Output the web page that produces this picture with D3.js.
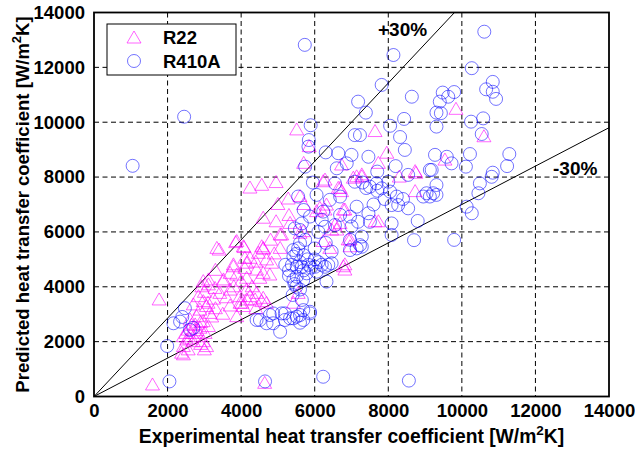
<!DOCTYPE html>
<html><head><meta charset="utf-8">
<script src="https://cdn.jsdelivr.net/npm/d3@7"></script>
<style>body{margin:0;background:#fff}text{font-family:"Liberation Sans",Arial,sans-serif;font-weight:bold}</style>
</head><body><svg id="c" width="635" height="450"></svg>
<script>
const xTicks=[0,2000,4000,6000,8000,10000,12000,14000];
const yTicks=[0,2000,4000,6000,8000,10000,12000,14000];
const seriesNames=["R22","R410A"];
const bandFactors=[1/0.7,0.7];
const bandLabels=["+30%","-30%"];
const r22=[
[1590,420],[1770,3520],[4640,480],[2430,1520],[2560,1700],[2380,1580],
[2430,1820],[2520,2060],[2650,2300],[2610,2790],[2750,2610],[2880,2490],[2790,2910],[2880,3150],[2700,3340],[2840,3640],[2970,3460],[3060,3280],[3150,3030],[2970,2730],[3110,2550],[3020,2300],[2840,2180],[2970,2000],[3060,1820],[2430,2180],[2560,2420],[2700,2000],[2900,1900],[3000,1700],[2800,2400],[2650,2600],[3200,2900],[3300,3200],[2600,2100],[2500,2300],[2900,2700],[3100,3400],
[2930,4000],[3110,4070],[3290,3940],[3420,3760],[3700,3880],[3970,3640],[4150,3520],[4020,3400],[4240,3640],[4380,3520],[4690,3400],[4060,3280],[2970,4190],[3110,4250],[3510,4190],[3520,4250],[3700,4490],[3790,4730],[3880,4430],[4100,4670],[4150,4310],[4420,4610],[4510,4310],[4690,4980],[4780,4430],[4240,5040],[4470,5220],[4150,4860],[4600,4490],[4150,3880],[4420,3760],[4600,3580],[3970,3400],[3880,2910],[3400,5340],[3850,5610],[4080,5430],[4600,5370],[4560,5460],[3340,5400],[3880,5650],[4060,5460],[4100,5040],[3790,4800],[4600,5400],[4830,4860],[3600,3600],[3800,4000],[4000,4200],[4300,4000],[3500,3000],[3700,3300],[4400,4900],[4900,5200],[3300,4600],[3000,3800],[4560,3460],[4400,3200],[3250,3550],
[4950,6370],[5100,5890],[5060,5400],[5330,6310],[5060,5890],[5600,5950],[5690,6010],[5600,7290],[6050,6740],[6280,6800],[6320,6980],[6140,6860],[6780,6800],[6820,6800],[6280,7890],[6640,7590],[6730,7470],[6690,7590],[6230,7830],[7050,7960],[7140,8010],[7280,8080],[7280,8010],[6690,6310],[6600,6070],[6460,6070],[6550,6250],[6230,5650],[6960,5460],[6410,5400],[6960,5710],[6910,5710],[7640,6370],[7730,6370],[6780,4730],[6820,4610],[6820,4800],[5550,3760],[5420,3400],[4950,7800],[4560,7700],[4240,7600],[5280,7200],[5700,7000],[5000,7000],[4600,6500],[5300,6600],[4800,5700],
[5510,9720],[5850,9110],[7640,9660],[7960,8870],[7730,8500],[8730,8200],[8730,7470],[8750,8140],[6730,8440],[9540,8620],[9840,10470],[10600,9470],[5700,8500],[8300,8000]
];
const r410a=[
[1050,8410],[2450,10200],[5730,12820],[8140,12450],[7820,11360],[8640,10930],[7180,10750],[7390,10350],[9400,10750],[9310,10350],[9310,9840],[8430,10120],[8050,9870],[5890,9890],[5840,9350],[7090,9530],[7230,9530],[8320,9460],
[10610,13300],[10270,11970],[9480,11080],[9630,10930],[9790,11100],[10660,11200],[10840,11470],[10840,11110],[10930,10850],[9430,10330],[10250,10020],[10580,10140],[10540,9570],
[9270,8810],[9590,8740],[9720,8500],[9180,8260],[10110,8380],[10220,8840],[11290,8840],[11230,8400],[10840,8160],[10810,8010],[10490,7770],[9310,7710],[9220,7410],[10450,7410],[9130,7290],[10130,6920],[10270,6680],[9790,5710],
[2050,550],[1990,1840],[4650,550],[6230,720],[8560,580],
[2470,3220],[2160,2670],[2340,2730],[2610,2430],[2400,2900],[2700,2500],
[4780,2970],[5100,3030],[5330,2850],[5600,2970],[5870,3090],[5650,3520],[4870,2670],[5060,2360],[5600,2690],[5190,2790],[4510,2790],[5690,3150],[5510,2910],[5690,2790],[5870,3030],[4420,2790],[4870,3030],[4690,2670],[5420,2850],[5190,3030],
[5420,5100],[5510,4730],[5380,4800],[5650,4730],[5830,4800],[6010,4730],[6190,4800],[6370,4800],[6460,4860],[6280,4730],[5780,4490],[6050,4550],[6320,4190],[5510,4370],[5420,4250],[5690,4250],[5600,5590],[5420,5340],[5500,5200],[5600,4900],[5300,4600],[5500,4000],[5700,4600],[5900,4700],[6100,4900],[5300,4400],[5450,4100],[5200,4800],[5550,5400],[5600,3900],[5400,3700],[5800,5000],[6000,5000],[5700,5150],
[5830,9110],[6640,8870],[7000,8810],[6870,8500],[7460,8740],[8450,8990],[5740,8380],[6600,8320],[8540,8080],[9130,8260],[6550,7770],[7090,7830],[7500,7650],[7680,7770],[7820,7590],[8000,7830],[8050,7470],[8230,7290],[8270,6980],[8540,6860],[8090,6980],[8950,7290],[9040,7410],[9310,7350],[6050,7350],[6410,7170],[6690,7290],[7140,6920],[6960,6560],[7460,6680],[7500,6370],[7180,6370],[7280,5830],[7230,5520],[6960,5710],[8090,6310],[8090,5890],[6550,6250],[6230,6740],[5550,7290],[5870,6560],[5650,6310],[6190,6440],[6690,6620],[6280,6190],[5600,6070],[5460,6130],[5740,5710],[7280,5460],[6960,5340],[6460,5280],[7140,5400],[7400,7600],[7700,7500],[7600,7000],[7000,6200],[8400,7200],[8800,6400],[7900,7200],[7300,7800],[5700,6800],[6100,6000],[6000,5400],[6300,5600],[5950,7800],[8200,8400],[7700,8200],[8700,5700],[6300,8900]
];

const svg=d3.select("#c");
const L=94,R=609,T=12.5,B=396.5;
const x=d3.scaleLinear().domain([0,14000]).range([L,R]);
const y=d3.scaleLinear().domain([0,14000]).range([B,T]);

svg.append("defs").append("clipPath").attr("id","clip").append("rect")
 .attr("x",L).attr("y",T).attr("width",R-L).attr("height",B-T);

// grid
const g=svg.append("g");
g.selectAll(".gx").data(xTicks.slice(1,-1)).join("line")
 .attr("x1",d=>x(d)).attr("x2",d=>x(d)).attr("y1",T).attr("y2",B)
 .attr("stroke","#000").attr("stroke-width",1).attr("stroke-dasharray","5,3.5");
g.selectAll(".gy").data(yTicks.slice(1,-1)).join("line")
 .attr("y1",d=>y(d)).attr("y2",d=>y(d)).attr("x1",L).attr("x2",R)
 .attr("stroke","#000").attr("stroke-width",1).attr("stroke-dasharray","5,3.5");

// reference lines
const pc=svg.append("g").attr("clip-path","url(#clip)");
bandFactors.forEach(f=>{
  pc.append("line").attr("x1",x(0)).attr("y1",y(0)).attr("x2",x(20000)).attr("y2",y(20000*f))
   .attr("stroke","#000").attr("stroke-width",1);
});

// markers
const tri="M0,-7L7,5L-7,5Z";
pc.selectAll(".t").data(r22).join("path")
 .attr("d",tri).attr("transform",d=>`translate(${x(d[0])},${y(d[1])})`)
 .attr("fill","none").attr("stroke","#ff00ff").attr("stroke-opacity",0.6).attr("stroke-width",1);
pc.selectAll(".c").data(r410a).join("circle")
 .attr("cx",d=>x(d[0])).attr("cy",d=>y(d[1])).attr("r",6.5)
 .attr("fill","none").attr("stroke","#0000ff").attr("stroke-opacity",0.55).attr("stroke-width",1);

// frame
svg.append("rect").attr("x",L).attr("y",T).attr("width",R-L).attr("height",B-T)
 .attr("fill","none").attr("stroke","#000").attr("stroke-width",1.8);

// axes
const ax=svg.append("g").attr("transform",`translate(0,${B})`)
 .call(d3.axisBottom(x).tickValues(xTicks).tickFormat(d3.format("d")).tickSize(0).tickPadding(7));
const ay=svg.append("g").attr("transform",`translate(${L},0)`)
 .call(d3.axisLeft(y).tickValues(yTicks).tickFormat(d3.format("d")).tickSize(0).tickPadding(9));
[ax,ay].forEach(a=>{a.select(".domain").remove();a.selectAll("text").attr("font-size",18.5).attr("fill","#000")
 .style("font-family","'Liberation Sans',Arial,sans-serif").style("font-weight","bold");});

// band labels
svg.append("text").attr("x",x(7720)).attr("y",36).attr("font-size",19).text(bandLabels[0]);
svg.append("text").attr("x",553).attr("y",175).attr("font-size",19).text(bandLabels[1]);

// titles
const xt=svg.append("text").attr("x",(L+R)/2).attr("y",443).attr("text-anchor","middle").attr("font-size",19.3);
xt.append("tspan").text("Experimental heat transfer coefficient [W/m");
xt.append("tspan").attr("dy",-8).attr("font-size",13.5).text("2");
xt.append("tspan").attr("dy",8).text("K]");
const yt=svg.append("text").attr("transform",`translate(29,${(T+B)/2}) rotate(-90)`).attr("text-anchor","middle").attr("font-size",18.5);
yt.append("tspan").text("Predicted heat transfer coefficient [W/m");
yt.append("tspan").attr("dy",-8).attr("font-size",13).text("2");
yt.append("tspan").attr("dy",8).text("K]");

// legend
const lg=svg.append("g");
lg.append("rect").attr("x",107).attr("y",24).attr("width",129).attr("height",51).attr("fill","#fff").attr("stroke","#000").attr("stroke-width",1);
lg.append("path").attr("d",tri).attr("transform","translate(134,38)").attr("fill","none").attr("stroke","#ff00ff").attr("stroke-opacity",0.6);
lg.append("circle").attr("cx",134).attr("cy",61).attr("r",6.5).attr("fill","none").attr("stroke","#0000ff").attr("stroke-opacity",0.55);
lg.append("text").attr("x",163).attr("y",44).attr("font-size",18.5).text(seriesNames[0]);
lg.append("text").attr("x",163).attr("y",68).attr("font-size",18.5).text(seriesNames[1]);
</script></body></html>
